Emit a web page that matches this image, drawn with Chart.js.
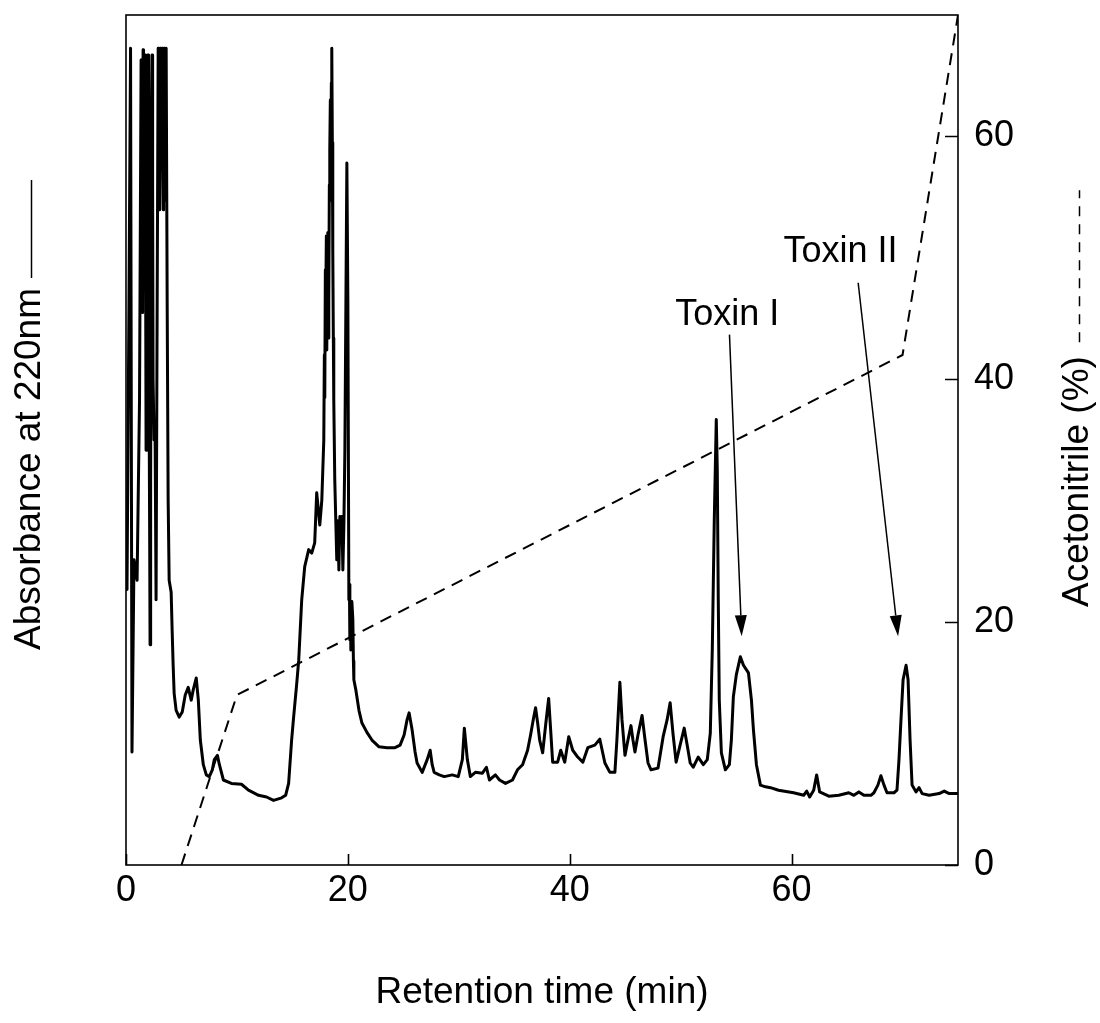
<!DOCTYPE html>
<html>
<head>
<meta charset="utf-8">
<script src="https://cdn.jsdelivr.net/npm/chart.js@4.4.0/dist/chart.umd.min.js"></script>
<style>
  html, body { margin: 0; padding: 0; background: #fff; }
  #wrap { width: 1100px; height: 1023px; }
</style>
</head>
<body>
<div id="wrap"><canvas id="c" width="1100" height="1023"></canvas></div>
<script>
// RP-HPLC chromatogram: absorbance trace (solid) and acetonitrile gradient (dashed)

// Absorbance at 220 nm (relative units), split by elution region
const voidTime = [0.09,0.27,0.41,0.54,0.72,1.00,1.22,1.36,1.40,1.45,1.50,1.54,1.58,1.63,1.68,1.72,1.77,1.81,1.86,1.90,1.95,1.99,2.04,2.08,2.13,2.17,2.22,2.26,2.31,2.35,2.40,2.44,2.53,2.62,2.71,2.81,2.90,2.94,2.99,3.03,3.08,3.12,3.17,3.21,3.26,3.30,3.35,3.39,3.44,3.48,3.53,3.57,3.62,3.71,3.80,3.89,4.07,4.16,4.25,4.34,4.52,4.80,5.07,5.34,5.61,5.88,6.06,6.33,6.52,6.70,6.97,7.24,7.51,7.78,7.96,8.24,8.42,8.78];
const voidAbs  = [32.4,66.5,96.1,13.3,35.9,33.5,54.7,94.7,70.0,86.5,65.0,95.9,80.0,72.4,93.0,95.3,70.0,48.8,75.0,90.0,70.0,95.3,80.0,54.7,40.0,25.9,45.0,66.5,90.0,95.3,80.0,57.1,50.0,51.2,31.2,66.5,96.1,80.0,77.1,92.0,96.1,85.0,84.1,93.0,96.1,82.0,77.1,90.0,96.1,85.0,78.2,92.0,96.1,66.5,42.9,33.5,32.1,27.6,23.5,20.2,18.2,17.4,18.0,20.0,20.9,19.4,20.6,22.0,19.4,14.7,11.8,10.6,10.4,11.2,12.4,12.9,11.8,10.0];

const earlyTime = [9.50,10.41,11.04,11.95,12.67,13.30,14.03,14.39,14.66,14.93,15.11,15.38,15.57,15.84,16.11,16.47,16.74,17.01,17.19,17.47,17.65,17.83,17.88,17.92,17.97,18.01,18.06,18.10,18.15,18.19,18.24,18.28,18.33,18.37,18.42,18.46,18.51,18.55,18.60,18.64,18.69,18.73,18.82,19.00,19.10,19.19,19.28,19.37,19.46,19.55,19.64,19.73,19.91,20.00,20.09,20.14,20.18,20.23,20.27,20.36,20.45,20.50,20.54,20.72,21.00,21.27,21.72,22.17,22.81,23.53,24.25,24.71,25.07,25.34,25.52,25.79];
const earlyAbs  = [9.6,9.5,8.8,8.2,8.0,7.6,7.9,8.2,9.6,14.7,17.4,21.2,24.1,31.2,35.1,37.1,36.7,37.9,43.8,40.0,42.9,50.0,60.0,55.0,70.0,66.5,74.0,60.6,72.0,74.4,62.0,66.5,80.0,84.1,90.0,78.2,92.0,96.1,85.0,72.4,62.0,54.7,45.3,35.9,40.5,34.7,41.0,38.2,41.0,34.7,40.0,48.8,82.6,66.5,31.2,33.0,26.5,30.0,25.3,31.0,28.8,24.0,21.8,20.6,18.2,16.7,15.6,14.7,13.9,13.8,13.8,14.1,15.3,17.1,17.9,15.9];

const midTime = [26.06,26.24,26.70,27.15,27.42,27.60,27.78,28.24,28.69,29.41,29.95,30.32,30.50,30.77,31.04,31.49,32.13,32.49,32.76,33.30,33.67,34.21,34.84,35.29,35.75,36.20,36.47,36.74,36.92,37.10,37.29,37.56,37.83,38.10,38.28,38.46,38.91,39.19,39.55,39.91,40.27,40.72,41.18,41.63,42.26,42.71,43.17,43.62,44.07,44.25,44.52,44.71,44.98,45.25,45.52,45.70,45.88,46.15,46.52,46.79,47.06,47.33,47.96,48.42,48.78,49.05,49.32,49.59,49.95,50.32,50.59,50.86,51.13,51.58,52.04,52.40];
const midAbs  = [13.3,12.0,10.9,12.4,13.5,11.8,10.9,10.6,10.4,10.6,10.4,12.4,16.1,12.4,10.4,10.9,10.8,11.5,10.0,10.6,10.0,9.6,10.0,11.2,11.8,13.5,15.3,17.3,18.5,16.8,14.7,13.2,16.5,19.6,15.9,12.1,12.1,13.5,12.1,15.1,13.5,12.7,12.1,13.8,14.1,14.8,12.0,10.9,10.9,14.7,21.5,17.1,12.9,14.7,16.4,14.7,13.3,15.3,17.6,14.7,12.0,11.2,11.4,15.1,17.1,19.1,15.3,12.1,14.1,16.1,14.1,12.0,11.5,12.7,11.8,12.4];

const lateTime = [52.67,52.85,53.03,53.21,53.30,53.39,53.48,53.67,54.03,54.39,54.57,54.75,55.02,55.38,55.66,56.11,56.38,56.56,56.83,57.19,57.65,58.10,58.82,60.18,61.09,61.36,61.63,61.99,62.26,62.53,63.35,64.25,65.16,65.61,66.06,66.52,67.15,67.42,67.78,68.05,68.33,68.60,69.23,69.50,69.68,69.86,70.05,70.32,70.50,70.68,70.86,71.22,71.49,71.77,72.40,73.30,73.76,74.21,75.00];
const lateAbs  = [15.5,25.3,40.6,52.4,46.5,31.2,19.4,13.2,11.2,11.8,14.7,19.8,22.4,24.5,23.5,22.6,19.4,15.9,11.8,9.4,9.2,9.1,8.8,8.5,8.2,8.7,8.0,8.8,10.6,8.6,8.1,8.2,8.5,8.2,8.6,8.2,8.2,8.5,9.4,10.5,9.4,8.5,8.5,8.8,12.4,17.1,21.8,23.5,21.8,14.7,9.4,8.6,9.1,8.4,8.2,8.4,8.7,8.4,8.4];

// Acetonitrile gradient program
const gradientTime = [5, 10, 70, 75];
const acetonitrile = [0, 14, 42, 70];

// Axis ticks
const timeTicks = [0, 20, 40, 60];
const percentTicks = [0, 20, 40, 60];

// Peak annotations: label baseline centre and arrow tail/tip (time, absorbance)
const peakNames = ['Toxin I', 'Toxin II'];
const peakLabelPos = [[54.2, 63.5], [64.4, 71.0]];
const arrowTail = [[54.4, 62.4], [66.0, 68.5]];
const arrowTip  = [[55.5, 26.9], [69.6, 26.9]];

const FONT = '"Liberation Sans", Arial, Helvetica, sans-serif';

const traceTime = [].concat(voidTime, earlyTime, midTime, lateTime);
const traceAbs = [].concat(voidAbs, earlyAbs, midAbs, lateAbs);

function pairs(xs, ys) { return xs.map((x, i) => ({ x: x, y: ys[i] })); }

const decor = {
  id: 'decor',
  afterDraw(chart) {
    const ctx = chart.ctx;
    const a = chart.chartArea;
    const x = chart.scales.x, yA = chart.scales.yA, yB = chart.scales.yB;
    ctx.save();
    ctx.strokeStyle = '#000';
    ctx.fillStyle = '#000';

    // frame
    ctx.lineWidth = 1.6;
    ctx.strokeRect(a.left, a.top, a.right - a.left, a.bottom - a.top);

    // inward tick marks
    ctx.beginPath();
    timeTicks.forEach(v => {
      const px = Math.round(x.getPixelForValue(v)) + 0.5;
      ctx.moveTo(px, a.bottom); ctx.lineTo(px, a.bottom - 11);
    });
    percentTicks.forEach(v => {
      const py = Math.round(yB.getPixelForValue(v)) + 0.5;
      ctx.moveTo(a.right, py); ctx.lineTo(a.right - 13, py);
    });
    ctx.stroke();

    // peak labels with arrows
    ctx.font = '36px ' + FONT;
    ctx.textAlign = 'center';
    ctx.textBaseline = 'alphabetic';
    peakNames.forEach((name, i) => {
      ctx.fillText(name, x.getPixelForValue(peakLabelPos[i][0]), yA.getPixelForValue(peakLabelPos[i][1]));
      const x1 = x.getPixelForValue(arrowTail[i][0]), y1 = yA.getPixelForValue(arrowTail[i][1]);
      const x2 = x.getPixelForValue(arrowTip[i][0]), y2 = yA.getPixelForValue(arrowTip[i][1]);
      const ang = Math.atan2(y2 - y1, x2 - x1);
      const hl = 21, hw = 6;
      const bx = x2 - hl * Math.cos(ang), by = y2 - hl * Math.sin(ang);
      ctx.lineWidth = 1.5;
      ctx.beginPath(); ctx.moveTo(x1, y1); ctx.lineTo(bx, by); ctx.stroke();
      ctx.beginPath();
      ctx.moveTo(x2, y2);
      ctx.lineTo(bx + hw * Math.sin(ang), by - hw * Math.cos(ang));
      ctx.lineTo(bx - hw * Math.sin(ang), by + hw * Math.cos(ang));
      ctx.closePath(); ctx.fill();
    });

    // axis titles
    ctx.font = '37px ' + FONT;
    ctx.textAlign = 'center';
    ctx.fillText('Retention time (min)', (a.left + a.right) / 2, 1003);

    ctx.textAlign = 'left';
    // left title, reading upward, followed by a solid line sample
    const leftTitle = 'Absorbance at 220nm';
    const lw = ctx.measureText(leftTitle).width;
    const leftStart = 650;
    ctx.save();
    ctx.translate(40, leftStart);
    ctx.rotate(-Math.PI / 2);
    ctx.fillText(leftTitle, 0, 0);
    ctx.restore();
    ctx.lineWidth = 1.5;
    ctx.beginPath();
    ctx.moveTo(31.5, leftStart - lw - 10);
    ctx.lineTo(31.5, leftStart - lw - 108);
    ctx.stroke();

    // right title, reading upward, followed by a dashed line sample
    const rightTitle = 'Acetonitrile (%)';
    const rw = ctx.measureText(rightTitle).width;
    const rightStart = 607;
    ctx.save();
    ctx.translate(1088, rightStart);
    ctx.rotate(-Math.PI / 2);
    ctx.fillText(rightTitle, 0, 0);
    ctx.restore();
    ctx.setLineDash([10, 8]);
    ctx.beginPath();
    ctx.moveTo(1079.5, rightStart - rw - 14);
    ctx.lineTo(1079.5, rightStart - rw - 166);
    ctx.stroke();
    ctx.setLineDash([]);

    ctx.restore();
  }
};

new Chart(document.getElementById('c'), {
  type: 'line',
  data: {
    datasets: [
      {
        label: 'Absorbance at 220nm',
        data: pairs(traceTime, traceAbs),
        yAxisID: 'yA',
        borderColor: '#000',
        borderWidth: 3,
        pointRadius: 0,
        tension: 0,
        borderJoinStyle: 'round',
        borderCapStyle: 'round'
      },
      {
        label: 'Acetonitrile (%)',
        data: pairs(gradientTime, acetonitrile),
        yAxisID: 'yB',
        borderColor: '#000',
        borderWidth: 2,
        borderDash: [12, 8],
        pointRadius: 0,
        tension: 0
      }
    ]
  },
  options: {
    responsive: false,
    devicePixelRatio: 1,
    animation: false,
    layout: { padding: { left: 126, top: 15, right: 0, bottom: 0 } },
    plugins: { legend: { display: false }, tooltip: { enabled: false } },
    scales: {
      x: {
        type: 'linear',
        min: 0, max: 75,
        afterBuildTicks: s => { s.ticks = timeTicks.map(v => ({ value: v })); },
        afterFit: s => { s.height = 158; s.paddingLeft = 0; s.paddingRight = 0; },
        grid: { display: false, drawTicks: false },
        border: { display: false },
        ticks: { color: '#000', font: { family: FONT, size: 36 }, padding: 4, maxRotation: 0 }
      },
      yA: {
        type: 'linear',
        position: 'left',
        min: 0, max: 100,
        display: false
      },
      yB: {
        type: 'linear',
        position: 'right',
        min: 0, max: 70,
        afterBuildTicks: s => { s.ticks = percentTicks.map(v => ({ value: v })); },
        afterFit: s => { s.width = 142; s.paddingTop = 0; s.paddingBottom = 0; },
        grid: { display: false, drawTicks: false },
        border: { display: false },
        ticks: { color: '#000', font: { family: FONT, size: 36 }, padding: 16 }
      }
    }
  },
  plugins: [decor]
});
</script>
</body>
</html>
